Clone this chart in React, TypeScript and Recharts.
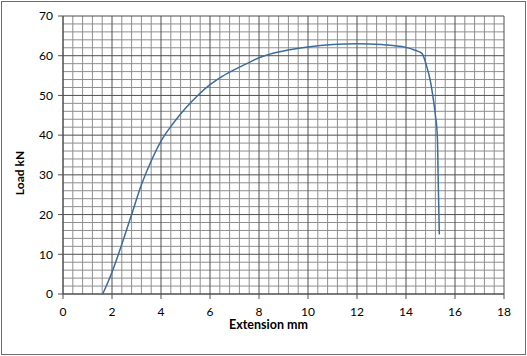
import { LineChart, Line, XAxis, YAxis, ReferenceLine } from 'recharts';

// extension (mm) vs load (kN)
const extension = [
  1.62, 2.0, 2.4, 2.8, 3.2, 3.6, 4.0, 4.5, 5.0, 5.5, 6.0, 6.5, 7.0, 7.5, 8.0, 9.0,
  10.0, 11.0, 12.0, 13.0, 14.0, 14.4, 14.65, 14.85, 15.0, 15.1, 15.2, 15.28, 15.32, 15.36,
];
const load = [
  0, 5.5, 12.5, 20, 27.5, 33.5, 38.5, 43, 46.8, 50, 52.7, 54.8, 56.5, 58, 59.5, 61.2,
  62.2, 62.8, 63, 62.8, 62.1, 61.3, 60.6, 57.2, 53.5, 49.7, 45, 39.5, 27, 15,
];

const xTicks = [0, 2, 4, 6, 8, 10, 12, 14, 16, 18];
const yTicks = [0, 10, 20, 30, 40, 50, 60, 70];

// minor grid: 5 cells between each major tick
const xMinor = Array.from({ length: 46 }, (_, i) => Math.round(i * 4) / 10).filter(
  (v) => !xTicks.includes(v)
);
const yMinor = Array.from({ length: 36 }, (_, i) => i * 2).filter((v) => !yTicks.includes(v));

const data = extension.map((x, i) => ({ x, load: load[i] }));

const MAJOR = '#4f4f4f';
const MINOR = '#8e8e8e';
const FONT = 'Lato, "Liberation Sans", sans-serif';

function YTitle({ viewBox }: any) {
  const cx = viewBox.x + 24;
  const cy = 173;
  return (
    <text
      x={cx}
      y={cy}
      transform={`rotate(-90 ${cx} ${cy})`}
      textAnchor="middle"
      fontFamily={FONT}
      fontWeight="bold"
      fontSize={12}
      fill="#000"
    >
      Load kN
    </text>
  );
}

export default function App() {
  return (
    <div style={{ position: 'relative', width: 527, height: 356, background: '#fff' }}>
      <style>{`body{margin:0}`}</style>
      <div
        style={{
          position: 'absolute',
          left: 1,
          top: 1,
          width: 525,
          height: 354,
          border: '1px solid #6b6b6b',
          boxSizing: 'border-box',
          pointerEvents: 'none',
        }}
      />
      <LineChart
        width={527}
        height={356}
        data={data}
        margin={{ top: 16, right: 23, left: 0, bottom: 0 }}
      >
        <XAxis
          type="number"
          dataKey="x"
          domain={[0, 18]}
          ticks={xTicks}
          interval={0}
          height={62}
          tickSize={5}
          tickMargin={8}
          axisLine={{ stroke: MAJOR }}
          tickLine={{ stroke: MAJOR }}
          tick={{ fontSize: 12, fill: '#000', fontFamily: FONT }}
          label={{
            value: 'Extension mm',
            position: 'insideBottom',
            offset: 27,
            dx: -15,
            fontSize: 12.5,
            fontWeight: 'bold',
            fill: '#000',
            fontFamily: FONT,
          }}
        />
        <YAxis
          type="number"
          domain={[0, 70]}
          ticks={yTicks}
          interval={0}
          width={63}
          tickSize={5}
          tickMargin={5}
          axisLine={{ stroke: MAJOR }}
          tickLine={{ stroke: MAJOR }}
          tick={{ fontSize: 12, fill: '#000', fontFamily: FONT }}
          label={<YTitle />}
        />
        {xMinor.map((v) => (
          <ReferenceLine key={`xm${v}`} x={v} stroke={MINOR} strokeWidth={1} ifOverflow="hidden" />
        ))}
        {yMinor.map((v) => (
          <ReferenceLine key={`ym${v}`} y={v} stroke={MINOR} strokeWidth={1} ifOverflow="hidden" />
        ))}
        {xTicks.map((v) => (
          <ReferenceLine key={`xM${v}`} x={v} stroke={MAJOR} strokeWidth={1} />
        ))}
        {yTicks.map((v) => (
          <ReferenceLine key={`yM${v}`} y={v} stroke={MAJOR} strokeWidth={1} />
        ))}
        <Line
          type="monotone"
          dataKey="load"
          stroke="#3c6c9d"
          strokeWidth={1.5}
          dot={false}
          isAnimationActive={false}
        />
      </LineChart>
    </div>
  );
}
